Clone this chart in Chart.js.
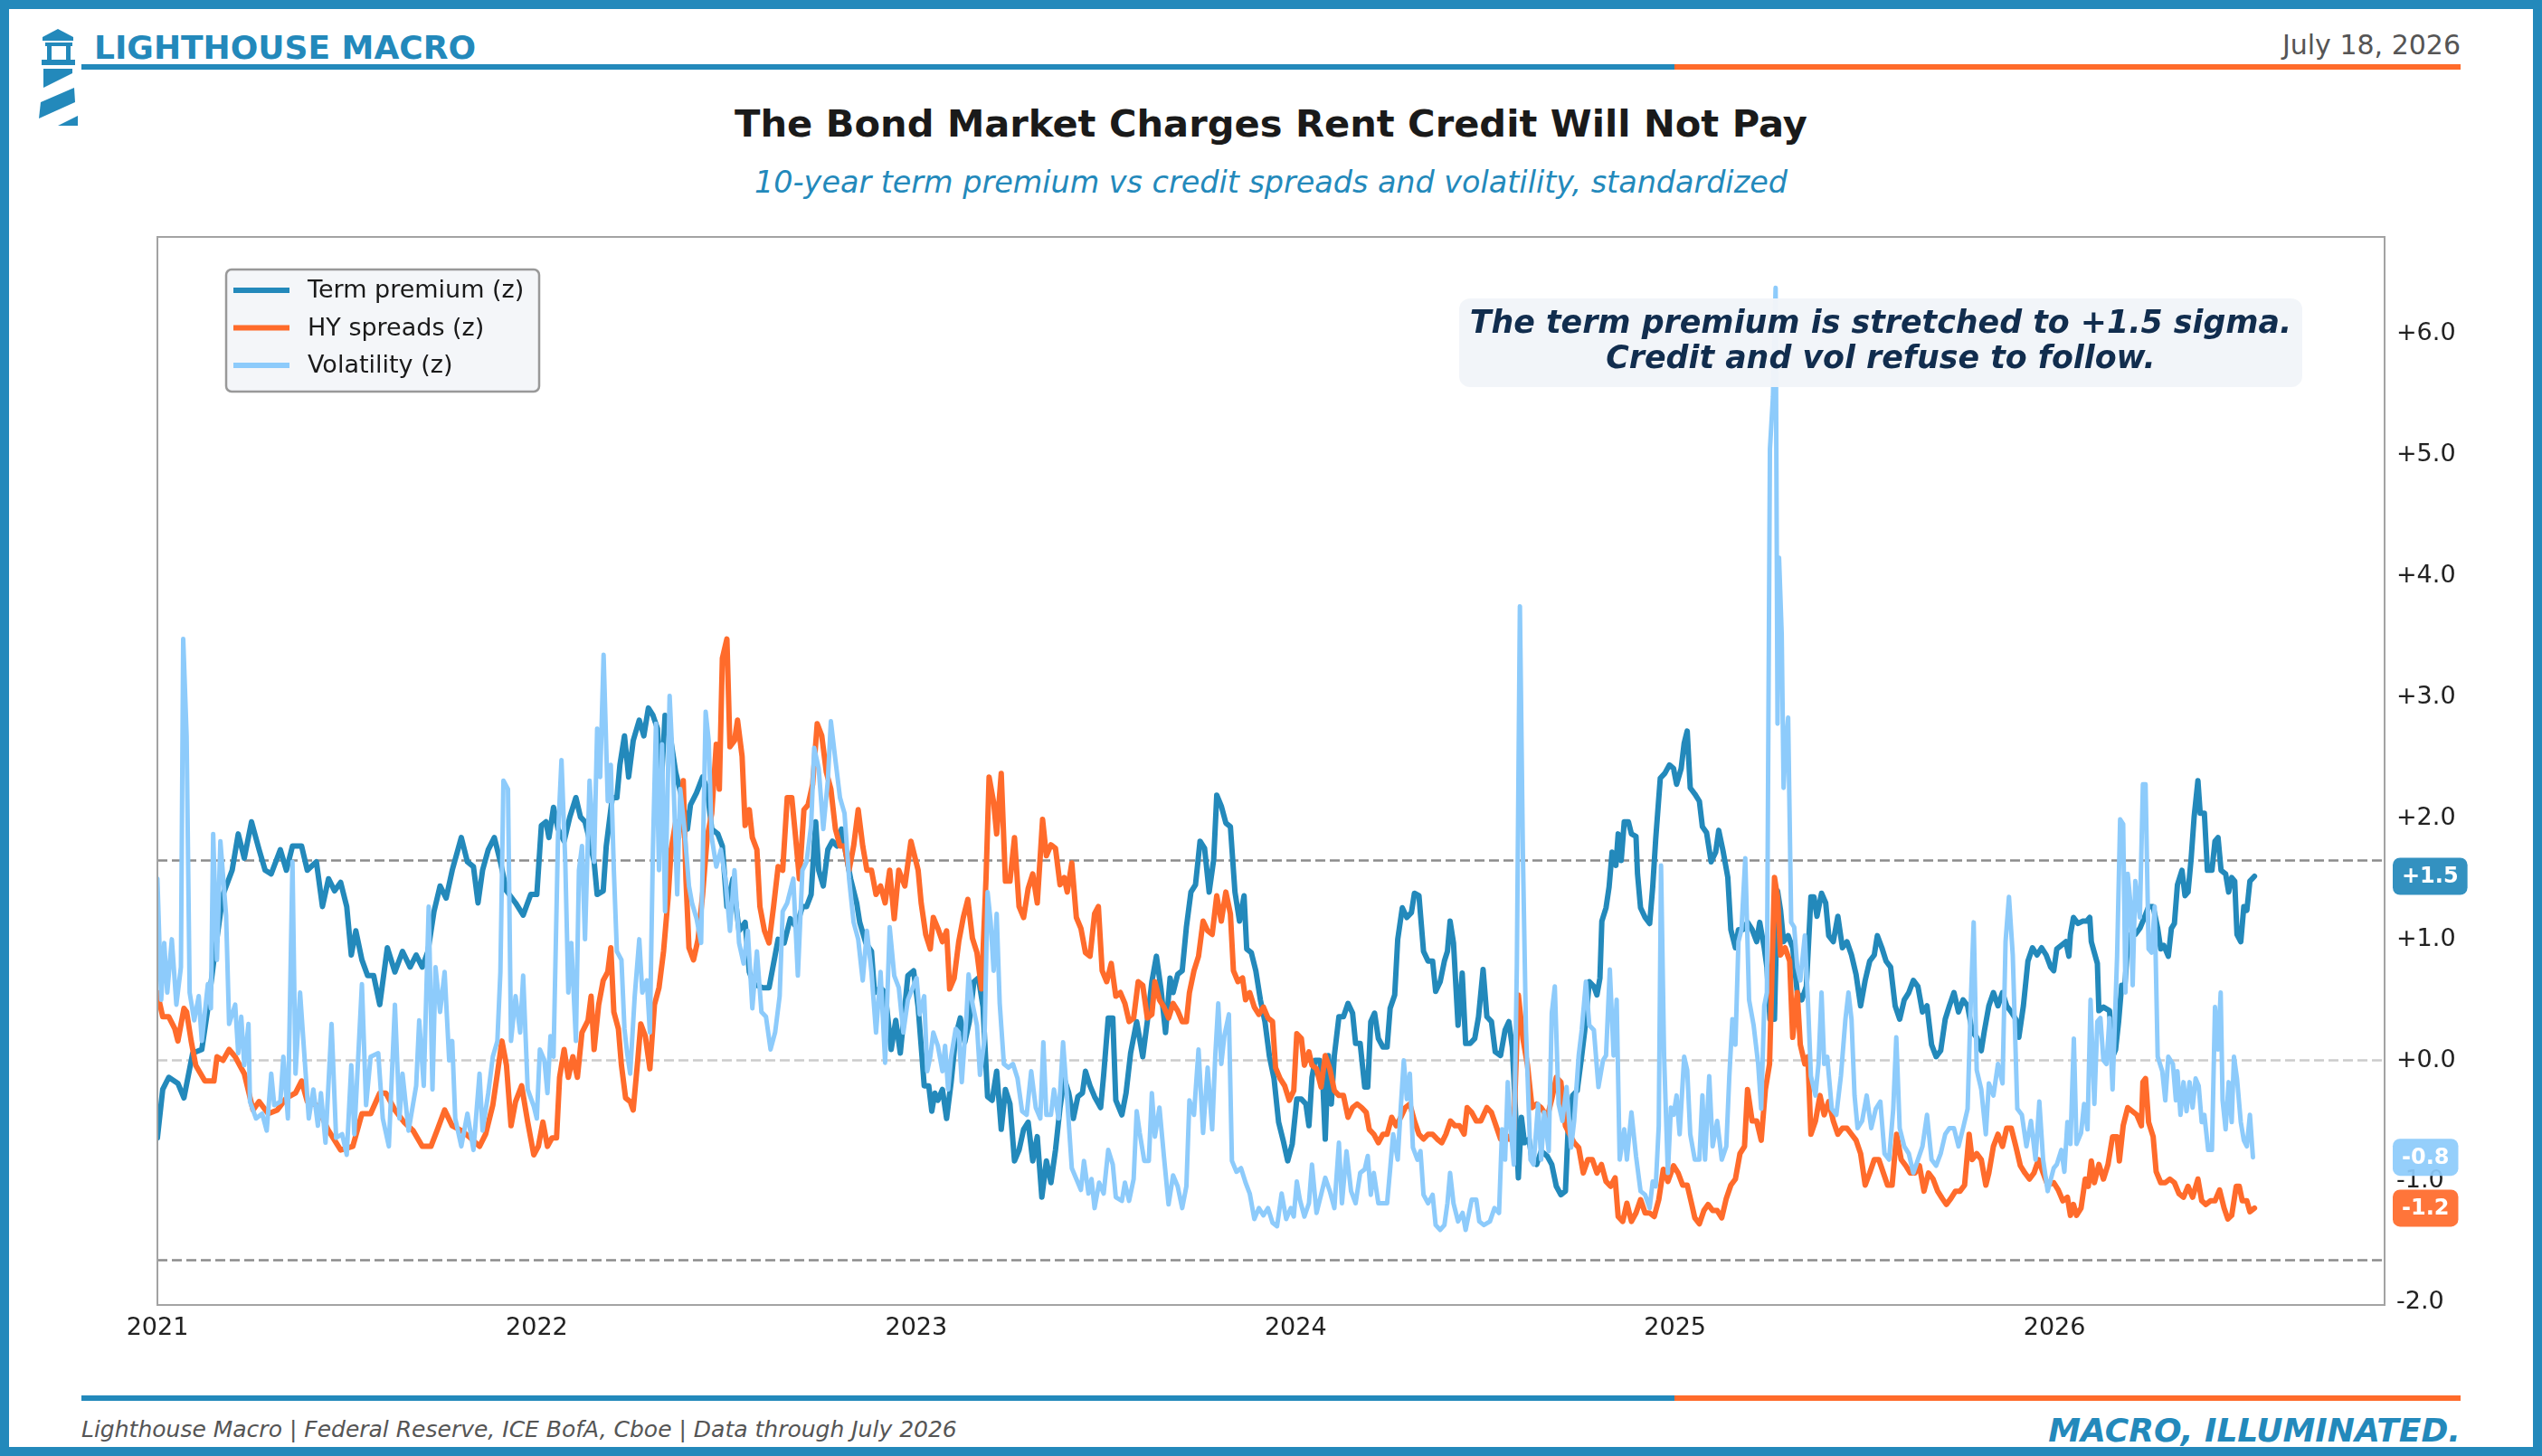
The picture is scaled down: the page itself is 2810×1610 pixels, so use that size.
<!DOCTYPE html>
<html>
<head>
<meta charset="utf-8">
<title>The Bond Market Charges Rent Credit Will Not Pay</title>
<script src="https://cdn.jsdelivr.net/npm/chart.js@4.4.1/dist/chart.umd.min.js"></script>
<style>
html, body { margin: 0; padding: 0; background: #fff; }
#page { position: relative; width: 2810px; height: 1610px; background: #fff; overflow: hidden; font-family: "DejaVu Sans", sans-serif; }
#frame { position: absolute; left: 0; top: 0; width: 2810px; height: 1610px; box-sizing: border-box; border: 10px solid #2389BB; pointer-events: none; z-index: 5; }
.txt { position: absolute; line-height: 1; white-space: nowrap; }
.rule { position: absolute; height: 6px; }
#chartBox { position: absolute; left: 100px; top: 230px; width: 2660px; height: 1290px; }
</style>
</head>
<body>
<div id="page">
  <svg style="position:absolute;left:40px;top:28px" width="50" height="115" viewBox="40 28 50 115">
    <g fill="#2389BB">
      <polygon points="64,32 81,41 81,45 47,45 47,41"/>
      <rect x="50" y="47" width="30" height="4"/>
      <rect x="52" y="47" width="5" height="21"/>
      <rect x="73" y="47" width="5" height="21"/>
      <rect x="46" y="66" width="37" height="6"/>
      <polygon points="48,76 80,76 80,81 48,97"/>
      <polygon points="82,97 83,113 43,131 45,113"/>
      <polygon points="64,139 86,128 86,139"/>
    </g>
  </svg>
  <div class="txt" style="left:104px;top:35px;font-size:36px;font-weight:bold;color:#2389BB;">LIGHTHOUSE MACRO</div>
  <div class="txt" style="right:90px;top:35px;font-size:30px;color:#555;">July 18, 2026</div>
  <div class="rule" style="left:90px;top:71px;width:1761px;background:#2389BB;"></div>
  <div class="rule" style="left:1851px;top:71px;width:869px;background:#FF6B2B;"></div>

  <div class="txt" style="left:0;width:2810px;text-align:center;top:116px;font-size:41.6px;font-weight:bold;color:#1a1a1a;">The Bond Market Charges Rent Credit Will Not Pay</div>
  <div class="txt" style="left:0;width:2810px;text-align:center;top:185px;font-size:33.4px;font-style:italic;color:#2389BB;">10-year term premium vs credit spreads and volatility, standardized</div>

  <div id="chartBox"><canvas id="chart"></canvas></div>

  <div class="rule" style="left:90px;top:1543px;width:1761px;background:#2389BB;"></div>
  <div class="rule" style="left:1851px;top:1543px;width:869px;background:#FF6B2B;"></div>
  <div class="txt" style="left:90px;top:1568px;font-size:25px;font-style:italic;color:#555;">Lighthouse Macro | Federal Reserve, ICE BofA, Cboe | Data through July 2026</div>
  <div class="txt" style="right:90px;top:1564px;font-size:36px;font-weight:bold;font-style:italic;color:#2389BB;">MACRO, ILLUMINATED.</div>
  <div id="frame"></div>
</div>

<script>
// ─── DATA: [decimal year, z-score] ──────────────────────────────────────────
var termPremium = [
  [2021.000,-0.64],[2021.014,-0.24],[2021.030,-0.14],[2021.054,-0.19],[2021.070,-0.31],[2021.093,0.06],[2021.117,0.09],
  [2021.133,0.43],[2021.149,0.83],[2021.173,1.37],[2021.197,1.57],[2021.213,1.87],[2021.229,1.67],[2021.248,1.97],
  [2021.268,1.74],[2021.284,1.57],[2021.300,1.54],[2021.324,1.74],[2021.340,1.57],[2021.356,1.77],[2021.380,1.77],
  [2021.395,1.57],[2021.419,1.64],[2021.435,1.27],[2021.451,1.50],[2021.467,1.40],[2021.483,1.47],[2021.499,1.27],
  [2021.511,0.87],[2021.523,1.07],[2021.539,0.83],[2021.554,0.70],[2021.570,0.70],[2021.586,0.46],[2021.606,0.93],
  [2021.626,0.73],[2021.646,0.90],[2021.666,0.77],[2021.682,0.87],[2021.698,0.77],[2021.713,0.90],[2021.729,1.23],
  [2021.745,1.44],[2021.761,1.34],[2021.777,1.57],[2021.801,1.84],[2021.817,1.64],[2021.833,1.60],[2021.845,1.30],
  [2021.857,1.57],[2021.872,1.74],[2021.888,1.84],[2021.904,1.64],[2021.920,1.40],[2021.944,1.30],[2021.964,1.20],
  [2021.984,1.37],
  [2022.000,1.37],[2022.012,1.94],[2022.024,1.97],[2022.032,1.84],[2022.044,2.09],[2022.056,1.91],[2022.072,1.81],
  [2022.087,2.01],[2022.103,2.17],[2022.115,2.01],[2022.127,1.97],[2022.135,1.87],[2022.151,1.64],[2022.159,1.37],
  [2022.175,1.40],[2022.183,1.77],[2022.199,2.17],[2022.211,2.17],[2022.219,2.44],[2022.231,2.68],[2022.242,2.34],
  [2022.254,2.64],[2022.270,2.81],[2022.282,2.68],[2022.294,2.91],[2022.306,2.85],[2022.318,2.74],[2022.326,2.17],
  [2022.338,2.85],[2022.350,2.71],[2022.366,2.38],[2022.382,2.17],[2022.397,1.91],[2022.405,2.11],[2022.421,2.21],
  [2022.437,2.34],[2022.449,2.24],[2022.461,1.91],[2022.477,1.87],[2022.489,1.77],[2022.501,1.27],[2022.517,1.50],
  [2022.533,1.07],[2022.549,1.14],[2022.560,0.73],[2022.572,0.63],[2022.596,0.60],[2022.612,0.60],[2022.624,0.80],
  [2022.636,1.00],[2022.652,0.97],[2022.668,1.17],[2022.684,1.10],[2022.700,1.27],[2022.711,1.27],[2022.723,1.37],
  [2022.735,1.97],[2022.743,1.57],[2022.755,1.44],[2022.767,1.74],[2022.779,1.81],[2022.791,1.77],[2022.803,1.91],
  [2022.815,1.70],[2022.827,1.50],[2022.843,1.30],[2022.851,1.14],[2022.867,0.97],[2022.882,0.90],[2022.890,0.56],
  [2022.906,0.60],[2022.918,0.56],[2022.934,0.09],[2022.946,0.33],[2022.958,0.06],[2022.978,0.70],
  [2022.993,0.74],[2023.005,0.44],[2023.013,0.12],[2023.021,-0.21],[2023.033,-0.21],[2023.041,-0.42],[2023.049,-0.27],
  [2023.057,-0.33],[2023.069,-0.24],[2023.080,-0.48],[2023.092,-0.18],[2023.104,0.20],[2023.116,0.35],[2023.128,0.15],
  [2023.140,0.32],[2023.152,0.65],[2023.164,0.68],[2023.176,0.44],[2023.188,-0.30],[2023.200,-0.33],[2023.212,-0.09],
  [2023.224,-0.57],[2023.235,-0.24],[2023.247,-0.36],[2023.259,-0.83],[2023.271,-0.74],[2023.283,-0.57],[2023.295,-0.51],
  [2023.307,-0.83],[2023.319,-0.63],[2023.331,-1.13],[2023.343,-0.83],[2023.355,-1.01],[2023.367,-0.74],[2023.379,-0.39],
  [2023.390,-0.15],[2023.402,-0.27],[2023.414,-0.48],[2023.426,-0.30],[2023.438,-0.27],[2023.446,-0.09],[2023.458,-0.21],
  [2023.470,-0.30],[2023.486,-0.39],[2023.494,-0.12],[2023.506,0.35],[2023.518,0.35],[2023.526,-0.33],[2023.542,-0.45],
  [2023.553,-0.27],[2023.565,0.06],[2023.581,0.32],[2023.597,0.03],[2023.609,0.32],[2023.621,0.65],[2023.633,0.86],
  [2023.645,0.59],[2023.657,0.23],[2023.669,0.68],[2023.677,0.56],[2023.689,0.71],[2023.701,0.74],[2023.712,1.10],
  [2023.724,1.39],[2023.736,1.45],[2023.748,1.81],[2023.760,1.75],[2023.772,1.39],[2023.784,1.66],[2023.792,2.19],
  [2023.804,2.10],[2023.816,1.96],[2023.828,1.93],[2023.840,1.39],[2023.852,1.15],[2023.864,1.36],[2023.871,0.92],
  [2023.883,0.89],[2023.895,0.74],[2023.907,0.50],[2023.919,0.32],[2023.931,0.03],[2023.943,-0.15],[2023.955,-0.51],
  [2023.967,-0.66],[2023.979,-0.83],[2023.991,-0.69],
  [2024.003,-0.32],[2024.015,-0.32],[2024.027,-0.36],[2024.035,-0.54],[2024.043,-0.14],[2024.051,0.00],[2024.063,0.00],
  [2024.071,-0.14],[2024.078,-0.65],[2024.086,0.04],[2024.094,-0.36],[2024.102,0.04],[2024.114,0.36],[2024.126,0.36],
  [2024.138,0.47],[2024.150,0.39],[2024.158,0.14],[2024.170,0.14],[2024.182,-0.22],[2024.190,-0.22],[2024.198,0.32],
  [2024.208,0.39],[2024.218,0.18],[2024.230,0.11],[2024.241,0.11],[2024.249,0.43],[2024.261,0.54],[2024.269,1.00],
  [2024.281,1.26],[2024.293,1.18],[2024.305,1.22],[2024.313,1.38],[2024.325,1.36],[2024.337,0.90],[2024.349,0.82],
  [2024.361,0.82],[2024.369,0.57],[2024.381,0.65],[2024.392,0.82],[2024.400,0.90],[2024.407,1.15],[2024.416,0.97],
  [2024.428,0.29],[2024.439,0.72],[2024.448,0.14],[2024.460,0.14],[2024.472,0.18],[2024.482,0.36],[2024.494,0.75],
  [2024.504,0.36],[2024.516,0.32],[2024.526,0.07],[2024.540,0.04],[2024.552,0.25],[2024.562,0.32],[2024.571,0.11],
  [2024.579,-0.39],[2024.587,-0.97],[2024.595,-0.47],[2024.603,-0.68],[2024.615,-0.65],[2024.623,-0.82],[2024.635,-0.86],
  [2024.647,-0.75],[2024.663,-0.79],[2024.675,-0.86],[2024.687,-1.04],[2024.699,-1.11],[2024.711,-1.08],[2024.718,-0.57],
  [2024.730,-0.29],[2024.742,-0.25],[2024.754,0.04],[2024.762,0.25],[2024.774,0.65],[2024.786,0.61],[2024.794,0.54],
  [2024.802,0.68],[2024.807,1.15],[2024.818,1.26],[2024.826,1.43],[2024.834,1.72],[2024.844,1.61],[2024.850,1.87],
  [2024.858,1.65],[2024.866,1.97],[2024.877,1.97],[2024.885,1.87],[2024.897,1.85],[2024.901,1.54],[2024.909,1.26],
  [2024.921,1.18],[2024.933,1.13],[2024.941,1.43],[2024.949,1.83],[2024.961,2.33],[2024.973,2.37],[2024.985,2.44],
  [2024.996,2.41],[2025.004,2.28],[2025.016,2.41],[2025.024,2.62],[2025.032,2.72],[2025.040,2.25],[2025.052,2.20],
  [2025.064,2.14],[2025.072,1.93],[2025.083,1.88],[2025.095,1.64],[2025.107,1.72],[2025.115,1.90],[2025.127,1.72],
  [2025.139,1.51],[2025.147,1.08],[2025.159,0.93],[2025.167,1.08],[2025.179,1.08],[2025.191,1.14],[2025.203,1.08],
  [2025.215,0.98],[2025.223,1.14],[2025.235,0.93],[2025.242,0.77],[2025.250,0.34],[2025.262,0.34],[2025.270,1.40],
  [2025.278,1.24],[2025.286,0.98],[2025.298,1.03],[2025.310,0.93],[2025.322,0.56],[2025.334,0.50],[2025.346,0.61],
  [2025.358,1.35],[2025.366,1.35],[2025.374,1.19],[2025.386,1.38],[2025.397,1.30],[2025.405,1.03],[2025.417,0.98],
  [2025.429,1.19],[2025.441,0.93],[2025.453,0.98],[2025.465,0.87],[2025.477,0.71],[2025.489,0.45],[2025.501,0.66],
  [2025.513,0.82],[2025.525,0.87],[2025.533,1.03],[2025.545,0.93],[2025.556,0.82],[2025.568,0.77],[2025.580,0.45],
  [2025.592,0.34],[2025.604,0.50],[2025.616,0.56],[2025.628,0.66],[2025.640,0.61],[2025.652,0.40],[2025.664,0.45],
  [2025.676,0.13],[2025.688,0.03],[2025.700,0.08],[2025.712,0.34],[2025.723,0.45],[2025.735,0.56],[2025.747,0.40],
  [2025.759,0.50],[2025.771,0.45],[2025.783,0.24],[2025.795,0.19],[2025.807,0.08],[2025.815,0.24],[2025.827,0.45],
  [2025.839,0.56],[2025.851,0.45],[2025.863,0.56],[2025.874,0.45],[2025.886,0.40],[2025.898,0.34],[2025.906,0.19],
  [2025.918,0.45],[2025.930,0.82],[2025.942,0.93],[2025.954,0.87],[2025.966,0.93],[2025.978,0.87],[2025.990,0.77],
  [2025.998,0.74],[2026.006,0.92],[2026.018,0.95],[2026.030,0.98],[2026.038,0.86],[2026.042,1.04],[2026.050,1.18],
  [2026.062,1.13],[2026.074,1.15],[2026.085,1.15],[2026.093,1.18],[2026.097,0.98],[2026.105,0.89],[2026.113,0.80],
  [2026.117,0.41],[2026.129,0.44],[2026.145,0.41],[2026.153,0.03],[2026.161,0.09],[2026.169,0.32],[2026.177,0.62],
  [2026.185,0.59],[2026.193,0.98],[2026.201,1.04],[2026.213,1.04],[2026.225,1.09],[2026.237,1.18],[2026.248,1.27],
  [2026.260,1.27],[2026.272,1.09],[2026.280,0.92],[2026.288,0.95],[2026.300,0.86],[2026.308,1.09],[2026.316,1.13],
  [2026.324,1.45],[2026.336,1.57],[2026.344,1.36],[2026.352,1.39],[2026.360,1.66],[2026.368,2.01],[2026.378,2.31],
  [2026.384,2.04],[2026.395,2.04],[2026.403,1.57],[2026.415,1.57],[2026.423,1.81],[2026.431,1.84],[2026.439,1.57],
  [2026.451,1.54],[2026.459,1.39],[2026.467,1.51],[2026.475,1.48],[2026.481,1.04],[2026.491,0.98],[2026.499,1.27],
  [2026.507,1.24],[2026.515,1.48],[2026.527,1.52]
];

var hySpreads = [
  [2021.000,0.56],[2021.014,0.36],[2021.030,0.36],[2021.046,0.26],[2021.054,0.16],[2021.070,0.43],[2021.077,0.40],
  [2021.089,0.16],[2021.101,-0.04],[2021.125,-0.17],[2021.149,-0.17],[2021.157,0.03],[2021.173,0.00],[2021.189,0.09],
  [2021.205,0.03],[2021.229,-0.11],[2021.252,-0.41],[2021.268,-0.34],[2021.292,-0.44],[2021.316,-0.41],[2021.340,-0.31],
  [2021.364,-0.27],[2021.380,-0.17],[2021.395,-0.34],[2021.419,-0.37],[2021.451,-0.58],[2021.483,-0.74],[2021.515,-0.71],
  [2021.539,-0.44],[2021.562,-0.44],[2021.586,-0.27],[2021.602,-0.27],[2021.626,-0.41],[2021.650,-0.51],[2021.674,-0.58],
  [2021.698,-0.71],[2021.721,-0.71],[2021.737,-0.58],[2021.757,-0.41],[2021.777,-0.54],[2021.801,-0.58],[2021.825,-0.64],
  [2021.849,-0.71],[2021.865,-0.61],[2021.884,-0.37],[2021.896,-0.11],[2021.908,0.16],[2021.920,-0.04],[2021.932,-0.54],
  [2021.944,-0.34],[2021.960,-0.21],[2021.976,-0.51],
  [2021.992,-0.78],[2022.004,-0.71],[2022.016,-0.51],[2022.028,-0.71],[2022.040,-0.64],[2022.052,-0.64],[2022.060,-0.14],
  [2022.072,0.09],[2022.083,-0.14],[2022.095,0.03],[2022.107,-0.14],[2022.119,0.23],[2022.135,0.33],[2022.143,0.53],
  [2022.151,0.09],[2022.163,0.46],[2022.175,0.66],[2022.187,0.73],[2022.195,0.93],[2022.203,0.40],[2022.215,0.26],
  [2022.223,-0.04],[2022.234,-0.31],[2022.246,-0.34],[2022.254,-0.41],[2022.266,0.00],[2022.274,0.30],[2022.286,0.20],
  [2022.298,-0.07],[2022.310,0.46],[2022.322,0.60],[2022.334,0.90],[2022.346,1.34],[2022.354,1.74],[2022.366,1.97],
  [2022.374,1.84],[2022.386,2.31],[2022.393,1.50],[2022.401,0.93],[2022.413,0.83],[2022.425,1.00],[2022.437,1.37],
  [2022.449,1.84],[2022.461,2.04],[2022.473,2.61],[2022.481,2.24],[2022.489,3.32],[2022.501,3.48],[2022.509,2.59],
  [2022.521,2.64],[2022.529,2.81],[2022.541,2.51],[2022.549,1.94],[2022.560,2.07],[2022.568,1.84],[2022.580,1.74],
  [2022.588,1.27],[2022.600,1.07],[2022.612,0.97],[2022.624,1.27],[2022.636,1.60],[2022.648,1.57],[2022.660,2.17],
  [2022.672,2.17],[2022.680,1.91],[2022.692,1.50],[2022.704,2.07],[2022.715,2.11],[2022.727,2.28],[2022.739,2.78],
  [2022.751,2.68],[2022.763,2.38],[2022.775,2.24],[2022.787,1.91],[2022.799,1.77],[2022.811,1.77],[2022.823,1.57],
  [2022.835,1.77],[2022.847,2.07],[2022.859,1.77],[2022.870,1.57],[2022.882,1.57],[2022.894,1.37],[2022.906,1.44],
  [2022.918,1.30],[2022.930,1.57],[2022.942,1.17],[2022.954,1.57],[2022.970,1.44],[2022.986,1.81],
  [2023.005,1.57],[2023.013,1.30],[2023.025,1.04],[2023.037,0.92],[2023.045,1.18],[2023.057,1.09],[2023.069,0.98],
  [2023.080,1.07],[2023.088,0.59],[2023.100,0.68],[2023.112,0.98],[2023.124,1.18],[2023.136,1.33],[2023.148,1.01],
  [2023.160,0.89],[2023.172,0.59],[2023.184,1.51],[2023.192,2.34],[2023.204,2.13],[2023.212,1.87],[2023.224,2.37],
  [2023.235,1.48],[2023.247,1.48],[2023.259,1.84],[2023.271,1.27],[2023.283,1.18],[2023.295,1.42],[2023.307,1.54],
  [2023.319,1.30],[2023.333,1.99],[2023.343,1.69],[2023.355,1.78],[2023.367,1.75],[2023.379,1.45],[2023.390,1.51],
  [2023.398,1.39],[2023.410,1.63],[2023.422,1.18],[2023.434,1.09],[2023.446,0.89],[2023.458,0.86],[2023.470,1.21],
  [2023.480,1.27],[2023.490,0.74],[2023.502,0.65],[2023.514,0.80],[2023.526,0.53],[2023.538,0.56],[2023.550,0.47],
  [2023.561,0.32],[2023.573,0.35],[2023.585,0.65],[2023.597,0.62],[2023.609,0.35],[2023.621,0.38],[2023.629,0.65],
  [2023.641,0.50],[2023.653,0.44],[2023.665,0.35],[2023.677,0.47],[2023.689,0.41],[2023.701,0.32],[2023.712,0.32],
  [2023.720,0.56],[2023.732,0.74],[2023.744,0.86],[2023.756,1.15],[2023.768,1.07],[2023.780,1.04],[2023.792,1.36],
  [2023.804,1.15],[2023.816,1.39],[2023.828,1.21],[2023.836,0.74],[2023.848,0.65],[2023.860,0.68],[2023.868,0.50],
  [2023.879,0.56],[2023.891,0.44],[2023.903,0.38],[2023.915,0.44],[2023.927,0.35],[2023.939,0.32],[2023.947,-0.06],
  [2023.959,-0.15],[2023.971,-0.21],[2023.983,-0.33],
  [2023.995,-0.25],[2024.003,0.22],[2024.015,0.18],[2024.023,-0.04],[2024.035,0.07],[2024.043,-0.04],[2024.055,-0.07],
  [2024.067,-0.22],[2024.078,0.04],[2024.090,-0.07],[2024.102,-0.25],[2024.114,-0.29],[2024.126,-0.29],[2024.138,-0.47],
  [2024.150,-0.39],[2024.162,-0.36],[2024.174,-0.39],[2024.186,-0.43],[2024.194,-0.57],[2024.206,-0.61],[2024.218,-0.68],
  [2024.230,-0.61],[2024.241,-0.61],[2024.253,-0.47],[2024.265,-0.54],[2024.277,-0.47],[2024.289,-0.39],[2024.301,-0.36],
  [2024.313,-0.50],[2024.325,-0.61],[2024.337,-0.65],[2024.349,-0.61],[2024.361,-0.61],[2024.373,-0.65],[2024.385,-0.68],
  [2024.396,-0.61],[2024.408,-0.50],[2024.420,-0.54],[2024.432,-0.54],[2024.444,-0.61],[2024.452,-0.39],[2024.464,-0.43],
  [2024.476,-0.50],[2024.488,-0.50],[2024.504,-0.39],[2024.516,-0.43],[2024.528,-0.54],[2024.540,-0.65],[2024.552,-0.61],
  [2024.563,-0.65],[2024.575,-0.57],[2024.587,0.54],[2024.599,0.18],[2024.611,-0.04],[2024.623,-0.39],[2024.635,-0.36],
  [2024.647,-0.39],[2024.663,-0.47],[2024.675,-0.32],[2024.687,-0.14],[2024.699,-0.18],[2024.711,-0.54],[2024.722,-0.61],
  [2024.734,-0.68],[2024.746,-0.72],[2024.758,-0.93],[2024.770,-0.82],[2024.782,-0.82],[2024.794,-0.93],[2024.806,-0.86],
  [2024.818,-1.00],[2024.830,-1.04],[2024.842,-0.97],[2024.850,-1.29],[2024.862,-1.33],[2024.873,-1.18],[2024.885,-1.33],
  [2024.897,-1.26],[2024.909,-1.15],[2024.921,-1.26],[2024.933,-1.26],[2024.945,-1.29],[2024.957,-1.15],[2024.969,-0.90],
  [2024.981,-1.00],
  [2024.996,-0.87],[2025.008,-0.93],[2025.020,-1.03],[2025.032,-1.03],[2025.044,-1.19],[2025.052,-1.30],[2025.064,-1.35],
  [2025.076,-1.24],[2025.087,-1.19],[2025.099,-1.24],[2025.111,-1.24],[2025.123,-1.30],[2025.135,-1.14],[2025.147,-1.03],
  [2025.159,-0.98],[2025.171,-0.77],[2025.183,-0.71],[2025.191,-0.24],[2025.203,-0.50],[2025.215,-0.50],[2025.227,-0.66],
  [2025.238,-0.24],[2025.249,-0.03],[2025.254,0.56],[2025.262,1.51],[2025.270,1.35],[2025.278,0.87],[2025.290,0.93],
  [2025.302,0.82],[2025.310,0.19],[2025.322,0.56],[2025.330,0.13],[2025.342,-0.03],[2025.350,0.03],[2025.358,-0.61],
  [2025.370,-0.50],[2025.382,-0.29],[2025.393,-0.45],[2025.405,-0.34],[2025.417,-0.50],[2025.429,-0.61],[2025.441,-0.56],
  [2025.453,-0.56],[2025.465,-0.61],[2025.477,-0.66],[2025.489,-0.77],[2025.501,-1.03],[2025.513,-0.93],[2025.525,-0.82],
  [2025.537,-0.82],[2025.549,-0.93],[2025.560,-1.03],[2025.572,-1.03],[2025.584,-0.61],[2025.596,-0.82],[2025.608,-0.87],
  [2025.620,-0.93],[2025.632,-0.93],[2025.644,-0.87],[2025.656,-1.08],[2025.668,-0.93],[2025.680,-0.98],[2025.692,-1.08],
  [2025.704,-1.14],[2025.715,-1.19],[2025.727,-1.14],[2025.739,-1.08],[2025.751,-1.08],[2025.763,-1.03],[2025.775,-0.61],
  [2025.783,-0.82],[2025.795,-0.77],[2025.807,-0.82],[2025.819,-1.03],[2025.827,-0.93],[2025.839,-0.71],[2025.851,-0.61],
  [2025.863,-0.71],[2025.874,-0.56],[2025.886,-0.56],[2025.898,-0.71],[2025.910,-0.87],[2025.922,-0.93],[2025.934,-0.98],
  [2025.946,-0.93],[2025.958,-0.82],[2025.970,-0.93],[2025.982,-1.03],
  [2025.998,-1.01],[2026.010,-1.07],[2026.022,-1.16],[2026.034,-1.13],[2026.042,-1.28],[2026.050,-1.19],[2026.058,-1.28],
  [2026.070,-1.22],[2026.081,-0.98],[2026.089,-1.04],[2026.097,-0.83],[2026.105,-1.01],[2026.117,-0.86],[2026.129,-0.98],
  [2026.141,-0.86],[2026.153,-0.63],[2026.165,-0.63],[2026.171,-0.83],[2026.181,-0.54],[2026.193,-0.39],[2026.205,-0.42],
  [2026.217,-0.45],[2026.229,-0.54],[2026.233,-0.18],[2026.240,-0.15],[2026.248,-0.51],[2026.260,-0.63],[2026.268,-0.92],
  [2026.280,-1.01],[2026.292,-1.01],[2026.304,-0.98],[2026.316,-1.01],[2026.328,-1.10],[2026.340,-1.13],[2026.352,-1.04],
  [2026.364,-1.13],[2026.378,-0.98],[2026.388,-1.16],[2026.399,-1.19],[2026.411,-1.16],[2026.423,-1.16],[2026.435,-1.07],
  [2026.447,-1.22],[2026.457,-1.31],[2026.467,-1.28],[2026.479,-1.04],[2026.487,-1.04],[2026.495,-1.16],[2026.507,-1.16],
  [2026.515,-1.25],[2026.527,-1.22]
];

var volatility = [
  [2021.000,1.50],[2021.010,0.50],[2021.018,0.97],[2021.026,0.56],[2021.038,1.00],[2021.050,0.46],[2021.062,0.77],
  [2021.068,3.48],[2021.077,2.68],[2021.085,0.56],[2021.097,0.33],[2021.109,0.53],[2021.117,0.16],[2021.133,0.63],
  [2021.141,0.43],[2021.147,1.87],[2021.157,0.83],[2021.166,1.81],[2021.181,1.20],[2021.189,0.30],[2021.205,0.46],
  [2021.213,0.06],[2021.221,0.36],[2021.229,-0.04],[2021.240,0.30],[2021.244,-0.34],[2021.260,-0.48],[2021.276,-0.44],
  [2021.288,-0.58],[2021.300,-0.11],[2021.308,-0.37],[2021.324,-0.34],[2021.332,0.03],[2021.344,-0.48],[2021.356,1.64],
  [2021.364,-0.11],[2021.376,0.56],[2021.387,0.06],[2021.399,-0.48],[2021.411,-0.24],[2021.423,-0.54],[2021.431,-0.27],
  [2021.443,-0.68],[2021.459,0.30],[2021.471,-0.64],[2021.487,-0.61],[2021.499,-0.78],[2021.511,-0.04],[2021.519,-0.61],
  [2021.539,0.63],[2021.550,-0.37],[2021.562,0.03],[2021.582,0.06],[2021.594,-0.48],[2021.610,-0.71],[2021.626,0.46],
  [2021.638,-0.48],[2021.646,-0.11],[2021.662,-0.58],[2021.682,-0.21],[2021.690,0.33],[2021.702,-0.21],[2021.715,1.27],
  [2021.725,-0.24],[2021.733,0.77],[2021.745,0.40],[2021.757,0.73],[2021.769,0.00],[2021.777,0.16],[2021.785,-0.48],
  [2021.801,-0.71],[2021.817,-0.44],[2021.833,-0.74],[2021.849,-0.11],[2021.857,-0.58],[2021.872,-0.27],[2021.884,0.03],
  [2021.896,0.16],[2021.904,0.73],[2021.912,2.31],[2021.924,2.24],[2021.932,0.16],[2021.944,0.53],[2021.956,0.23],
  [2021.964,0.70],[2021.976,-0.24],
  [2021.992,-0.38],[2022.000,-0.48],[2022.008,0.09],[2022.020,0.00],[2022.028,-0.27],[2022.036,0.20],[2022.044,0.03],
  [2022.056,1.87],[2022.065,2.48],[2022.075,1.64],[2022.083,0.56],[2022.091,0.97],[2022.103,0.16],[2022.111,1.57],
  [2022.119,1.77],[2022.127,1.00],[2022.139,2.31],[2022.151,1.64],[2022.159,2.74],[2022.167,2.34],[2022.176,3.35],
  [2022.187,2.14],[2022.195,2.44],[2022.203,1.57],[2022.211,0.90],[2022.223,0.83],[2022.231,0.26],[2022.238,0.06],
  [2022.246,-0.11],[2022.258,0.53],[2022.270,1.00],[2022.278,0.56],[2022.290,0.66],[2022.298,0.23],[2022.306,1.74],
  [2022.314,2.78],[2022.322,1.57],[2022.330,2.61],[2022.338,1.23],[2022.350,3.01],[2022.359,2.41],[2022.370,1.37],
  [2022.378,2.24],[2022.389,1.91],[2022.401,1.44],[2022.409,1.30],[2022.421,1.17],[2022.433,0.97],[2022.445,2.88],
  [2022.453,2.64],[2022.461,1.84],[2022.473,1.60],[2022.485,1.74],[2022.497,1.50],[2022.509,1.07],[2022.521,1.57],
  [2022.533,0.97],[2022.545,0.80],[2022.556,1.07],[2022.568,0.43],[2022.580,0.90],[2022.592,0.40],[2022.604,0.36],
  [2022.616,0.09],[2022.628,0.23],[2022.640,0.53],[2022.648,1.23],[2022.660,1.30],[2022.676,1.50],[2022.688,0.70],
  [2022.700,1.57],[2022.711,1.64],[2022.723,1.94],[2022.731,2.58],[2022.743,2.41],[2022.755,1.91],[2022.767,2.31],
  [2022.775,2.80],[2022.787,2.48],[2022.799,2.17],[2022.811,2.04],[2022.823,1.50],[2022.835,1.14],[2022.847,1.00],
  [2022.859,0.66],[2022.870,1.07],[2022.882,0.73],[2022.894,0.23],[2022.906,0.73],[2022.918,-0.02],[2022.930,1.10],
  [2022.942,0.70],[2022.954,0.60],[2022.966,0.23],[2022.978,0.50],
  [2023.001,0.68],[2023.009,0.38],[2023.021,0.53],[2023.029,-0.09],[2023.037,0.03],[2023.045,0.23],[2023.057,0.12],
  [2023.069,-0.09],[2023.076,0.12],[2023.084,-0.24],[2023.092,0.03],[2023.104,0.26],[2023.112,0.23],[2023.120,-0.18],
  [2023.132,0.35],[2023.138,0.71],[2023.148,0.47],[2023.160,0.29],[2023.168,-0.12],[2023.180,0.18],[2023.188,1.39],
  [2023.196,1.15],[2023.204,0.74],[2023.212,1.21],[2023.220,0.47],[2023.231,-0.03],[2023.243,-0.06],[2023.255,-0.03],
  [2023.267,-0.15],[2023.279,-0.42],[2023.291,-0.45],[2023.303,-0.09],[2023.315,-0.39],[2023.327,-0.48],[2023.335,0.15],
  [2023.343,-0.45],[2023.355,-0.45],[2023.363,-0.24],[2023.375,-0.48],[2023.387,0.15],[2023.398,-0.33],[2023.410,-0.89],
  [2023.422,-0.98],[2023.434,-1.07],[2023.442,-0.83],[2023.454,-1.10],[2023.462,-0.98],[2023.470,-1.22],[2023.482,-1.01],
  [2023.494,-1.10],[2023.506,-0.74],[2023.518,-0.86],[2023.526,-1.13],[2023.542,-1.16],[2023.550,-1.01],[2023.561,-1.16],
  [2023.573,-0.98],[2023.581,-0.42],[2023.589,-0.60],[2023.601,-0.83],[2023.613,-0.83],[2023.621,-0.27],[2023.629,-0.63],
  [2023.641,-0.39],[2023.653,-0.80],[2023.665,-1.19],[2023.677,-0.95],[2023.689,-1.04],[2023.701,-1.22],[2023.712,-1.04],
  [2023.720,-0.33],[2023.732,-0.45],[2023.744,0.09],[2023.756,-0.60],[2023.768,-0.06],[2023.780,-0.57],[2023.788,0.03],
  [2023.796,0.47],[2023.804,-0.03],[2023.812,0.20],[2023.824,0.38],[2023.832,-0.83],[2023.844,-0.92],[2023.856,-0.89],
  [2023.868,-1.01],[2023.879,-1.10],[2023.891,-1.31],[2023.903,-1.22],[2023.915,-1.28],[2023.927,-1.22],[2023.939,-1.34],
  [2023.951,-1.37],[2023.963,-1.10],[2023.975,-1.31],[2023.987,-1.22],
  [2023.995,-1.29],[2024.003,-1.00],[2024.011,-1.15],[2024.023,-1.29],[2024.035,-1.18],[2024.043,-0.86],[2024.055,-1.26],
  [2024.067,-1.11],[2024.078,-0.97],[2024.090,-1.08],[2024.102,-1.22],[2024.114,-0.68],[2024.122,-1.18],[2024.134,-0.75],
  [2024.146,-1.08],[2024.158,-1.18],[2024.170,-0.93],[2024.182,-0.90],[2024.190,-0.79],[2024.198,-1.11],[2024.206,-0.93],
  [2024.218,-1.18],[2024.230,-1.18],[2024.241,-1.18],[2024.249,-0.90],[2024.257,-0.61],[2024.269,-0.82],[2024.277,-0.39],
  [2024.285,0.00],[2024.293,-0.32],[2024.301,-0.11],[2024.309,-0.72],[2024.321,-0.82],[2024.329,-0.75],[2024.337,-1.11],
  [2024.349,-1.18],[2024.361,-1.11],[2024.369,-1.36],[2024.381,-1.40],[2024.392,-1.36],[2024.400,-1.18],[2024.407,-0.93],
  [2024.416,-1.18],[2024.428,-1.33],[2024.440,-1.26],[2024.448,-1.40],[2024.464,-1.15],[2024.476,-1.15],[2024.484,-1.33],
  [2024.496,-1.36],[2024.512,-1.33],[2024.524,-1.22],[2024.536,-1.26],[2024.544,-0.57],[2024.552,-0.82],[2024.559,-0.18],
  [2024.567,-0.57],[2024.575,-0.86],[2024.583,0.79],[2024.591,3.75],[2024.599,1.69],[2024.607,0.25],[2024.619,-0.82],
  [2024.627,-0.86],[2024.639,-0.36],[2024.647,-0.82],[2024.655,-0.43],[2024.667,-0.75],[2024.675,0.39],[2024.683,0.61],
  [2024.693,-0.36],[2024.703,-0.50],[2024.714,-0.22],[2024.726,-0.72],[2024.734,-0.50],[2024.746,0.04],[2024.754,0.25],
  [2024.765,0.65],[2024.774,0.29],[2024.786,0.25],[2024.798,-0.22],[2024.810,0.00],[2024.818,0.04],[2024.828,0.75],
  [2024.838,0.04],[2024.846,0.50],[2024.854,-0.82],[2024.866,-0.57],[2024.873,-0.82],[2024.885,-0.43],[2024.897,-0.79],
  [2024.909,-1.08],[2024.921,-1.11],[2024.933,-1.22],[2024.941,-1.00],[2024.949,-1.04],[2024.957,-0.54],[2024.963,1.61],
  [2024.971,0.04],[2024.981,-0.93],[2024.989,-0.39],
  [2024.996,-0.45],[2025.004,-0.29],[2025.012,-0.61],[2025.024,0.03],[2025.032,-0.08],[2025.040,-0.61],[2025.052,-0.82],
  [2025.064,-0.82],[2025.072,-0.29],[2025.079,-0.82],[2025.090,-0.13],[2025.099,-0.71],[2025.111,-0.50],[2025.123,-0.82],
  [2025.135,-0.71],[2025.143,-0.13],[2025.151,0.34],[2025.159,0.13],[2025.167,0.98],[2025.175,1.08],[2025.185,1.67],
  [2025.195,0.50],[2025.207,0.29],[2025.219,-0.03],[2025.227,-0.40],[2025.235,0.45],[2025.242,0.56],[2025.250,5.05],
  [2025.258,5.48],[2025.265,6.38],[2025.270,2.78],[2025.274,4.15],[2025.281,3.52],[2025.286,2.25],[2025.292,2.62],
  [2025.298,2.83],[2025.306,1.14],[2025.314,1.10],[2025.322,0.77],[2025.330,0.66],[2025.342,1.03],[2025.350,0.50],
  [2025.358,-0.13],[2025.370,-0.29],[2025.378,-0.03],[2025.386,0.56],[2025.393,-0.03],[2025.401,0.03],[2025.413,-0.40],
  [2025.425,-0.45],[2025.437,-0.13],[2025.449,0.34],[2025.457,0.56],[2025.465,0.34],[2025.473,-0.29],[2025.481,-0.56],
  [2025.493,-0.50],[2025.505,-0.29],[2025.517,-0.56],[2025.529,-0.40],[2025.541,-0.34],[2025.552,-0.77],[2025.564,-0.82],
  [2025.575,-0.40],[2025.583,0.19],[2025.592,-0.56],[2025.604,-0.71],[2025.616,-0.77],[2025.628,-0.93],[2025.640,-0.82],
  [2025.652,-0.71],[2025.664,-0.45],[2025.676,-0.82],[2025.688,-0.87],[2025.700,-0.77],[2025.712,-0.61],[2025.723,-0.56],
  [2025.735,-0.56],[2025.747,-0.71],[2025.759,-0.56],[2025.771,-0.40],[2025.779,0.45],[2025.787,1.14],[2025.795,-0.08],
  [2025.807,-0.24],[2025.819,-0.61],[2025.827,-0.19],[2025.839,-0.29],[2025.851,-0.03],[2025.863,-0.19],[2025.871,0.98],
  [2025.880,1.35],[2025.890,0.87],[2025.902,-0.40],[2025.914,-0.45],[2025.926,-0.71],[2025.938,-0.50],[2025.950,-0.82],
  [2025.960,-0.34],[2025.970,-0.82],[2025.982,-1.08],
  [2025.998,-0.89],[2026.006,-0.86],[2026.018,-0.74],[2026.026,-0.92],[2026.034,-0.51],[2026.042,-0.69],[2026.051,0.18],
  [2026.058,-0.69],[2026.070,-0.60],[2026.078,-0.36],[2026.087,-0.57],[2026.095,0.50],[2026.105,-0.36],[2026.113,0.32],
  [2026.121,0.35],[2026.129,0.00],[2026.137,-0.03],[2026.145,0.35],[2026.153,-0.24],[2026.165,0.86],[2026.173,1.99],
  [2026.181,1.95],[2026.187,0.56],[2026.193,1.54],[2026.201,1.27],[2026.206,0.62],[2026.213,1.48],[2026.225,1.18],
  [2026.233,2.28],[2026.240,2.28],[2026.248,0.92],[2026.256,0.89],[2026.264,1.27],[2026.272,0.03],[2026.284,-0.09],
  [2026.292,-0.33],[2026.300,0.03],[2026.312,-0.03],[2026.320,-0.33],[2026.324,-0.09],[2026.332,-0.45],[2026.340,-0.18],
  [2026.348,-0.42],[2026.356,-0.18],[2026.364,-0.39],[2026.372,-0.15],[2026.380,-0.21],[2026.388,-0.51],[2026.395,-0.45],
  [2026.405,-0.74],[2026.415,-0.74],[2026.423,0.44],[2026.431,0.09],[2026.438,0.56],[2026.443,-0.33],[2026.451,-0.57],
  [2026.459,-0.18],[2026.467,-0.51],[2026.473,0.03],[2026.481,-0.15],[2026.491,-0.51],[2026.499,-0.66],[2026.507,-0.71],
  [2026.515,-0.45],[2026.523,-0.80]
];

var yearTicks = [2021, 2022, 2023, 2024, 2025, 2026];
var zTicks = [-2, -1, 0, 1, 2, 3, 4, 5, 6];
var sigmaBands = [1.65, -1.65];
var annotationLines = ['The term premium is stretched to +1.5 sigma.', 'Credit and vol refuse to follow.'];

// ─── HELPERS ────────────────────────────────────────────────────────────────
function toPoints(rows) {
    return rows.map(function (r) { return { x: r[0], y: r[1] }; });
}
function fmtZ(v) {
    return (v >= 0 ? '+' : '') + v.toFixed(1);
}
var FONT = '"DejaVu Sans", sans-serif';

// ─── DECORATIONS PLUGIN ─────────────────────────────────────────────────────
var decorations = {
    id: 'decorations',
    beforeDatasetsDraw: function (chart) {
        var ctx = chart.ctx, a = chart.chartArea, y = chart.scales.y;
        ctx.save();
        ctx.setLineDash([11, 5]);
        ctx.lineWidth = 2.5;
        ctx.strokeStyle = '#cccccc';
        var y0 = y.getPixelForValue(0);
        ctx.beginPath(); ctx.moveTo(a.left, y0); ctx.lineTo(a.right, y0); ctx.stroke();
        ctx.strokeStyle = '#8c8c8c';
        sigmaBands.forEach(function (v) {
            var py = y.getPixelForValue(v);
            ctx.beginPath(); ctx.moveTo(a.left, py); ctx.lineTo(a.right, py); ctx.stroke();
        });
        ctx.restore();
    },
    afterDatasetsDraw: function (chart) {
        var ctx = chart.ctx, a = chart.chartArea;
        ctx.save();
        // plot frame
        ctx.strokeStyle = '#a3a3a3';
        ctx.lineWidth = 2;
        ctx.strokeRect(a.left, a.top, a.right - a.left, a.bottom - a.top);

        // legend
        var lx = a.left + 76, ly = a.top + 36;
        ctx.beginPath();
        ctx.roundRect(lx, ly, 346, 135, 6);
        ctx.fillStyle = 'rgba(243,246,249,0.95)';
        ctx.fill();
        ctx.lineWidth = 2.5;
        ctx.strokeStyle = '#999999';
        ctx.stroke();
        ctx.font = '27px ' + FONT;
        ctx.textBaseline = 'middle';
        chart.data.datasets.forEach(function (ds, i) {
            var cy = ly + 23 + i * 41.5;
            ctx.strokeStyle = ds.borderColor;
            ctx.lineWidth = 6;
            ctx.beginPath(); ctx.moveTo(lx + 8, cy); ctx.lineTo(lx + 70, cy); ctx.stroke();
            ctx.fillStyle = '#1a1a1a';
            ctx.fillText(ds.label, lx + 90, cy + 1);
        });

        // annotation
        var bx = a.left + 1439, by = a.top + 68;
        ctx.beginPath();
        ctx.roundRect(bx, by, 932, 98, 12);
        ctx.fillStyle = 'rgba(241,245,249,0.96)';
        ctx.fill();
        ctx.fillStyle = '#112d4e';
        ctx.font = 'italic bold 34.8px ' + FONT;
        ctx.textAlign = 'center';
        annotationLines.forEach(function (t, i) {
            ctx.fillText(t, bx + 466, by + 29 + i * 39);
        });
        ctx.restore();
    },
    afterDraw: function (chart) {
        var ctx = chart.ctx, a = chart.chartArea, y = chart.scales.y;
        ctx.save();
        ctx.font = 'bold 24px ' + FONT;
        ctx.textBaseline = 'middle';
        ctx.textAlign = 'center';
        chart.data.datasets.forEach(function (ds) {
            var last = ds.data[ds.data.length - 1].y;
            var py = y.getPixelForValue(last);
            var label = fmtZ(last);
            var w = ctx.measureText(label).width + 20;
            ctx.globalAlpha = 0.93;
            ctx.fillStyle = ds.borderColor;
            ctx.beginPath();
            ctx.roundRect(a.right + 9, py - 20.5, w, 41, 8);
            ctx.fill();
            ctx.globalAlpha = 1;
            ctx.fillStyle = '#ffffff';
            ctx.fillText(label, a.right + 9 + w / 2, py + 1);
        });
        ctx.restore();
    }
};

// ─── CHART ──────────────────────────────────────────────────────────────────
var lineStyle = { pointRadius: 0, tension: 0, fill: false, borderJoinStyle: 'round', borderCapStyle: 'round' };

var chart = new Chart(document.getElementById('chart').getContext('2d'), {
    type: 'line',
    data: {
        datasets: [
            Object.assign({ label: 'Term premium (z)', data: toPoints(termPremium), borderColor: '#2389BB', borderWidth: 6, order: 3 }, lineStyle),
            Object.assign({ label: 'HY spreads (z)', data: toPoints(hySpreads), borderColor: '#FF6B2B', borderWidth: 6, order: 2 }, lineStyle),
            Object.assign({ label: 'Volatility (z)', data: toPoints(volatility), borderColor: '#8DCBFB', borderWidth: 5, order: 1 }, lineStyle)
        ]
    },
    options: {
        responsive: true,
        maintainAspectRatio: false,
        devicePixelRatio: 1,
        animation: false,
        layout: { padding: { left: 74, top: 32, right: 14, bottom: 17 } },
        plugins: { legend: { display: false }, tooltip: { enabled: false } },
        scales: {
            x: {
                type: 'linear',
                min: 2021,
                max: 2026.87,
                grid: { display: false, drawTicks: false },
                border: { display: false },
                afterBuildTicks: function (s) { s.ticks = yearTicks.map(function (v) { return { value: v }; }); },
                afterFit: function (s) { s.height = 60; },
                ticks: {
                    font: { family: FONT, size: 27 },
                    color: '#222222',
                    padding: 10,
                    maxRotation: 0,
                    autoSkip: false,
                    callback: function (v) { return String(v); }
                }
            },
            y: {
                type: 'linear',
                position: 'right',
                min: -2.02,
                max: 6.8,
                grid: { display: false, drawTicks: false },
                border: { display: false },
                afterBuildTicks: function (s) { s.ticks = zTicks.map(function (v) { return { value: v }; }); },
                afterFit: function (s) { s.width = 110; },
                ticks: {
                    font: { family: FONT, size: 27 },
                    color: '#222222',
                    padding: 13,
                    autoSkip: false,
                    callback: function (v) { return fmtZ(v); }
                }
            }
        }
    },
    plugins: [decorations]
});
</script>
</body>
</html>
